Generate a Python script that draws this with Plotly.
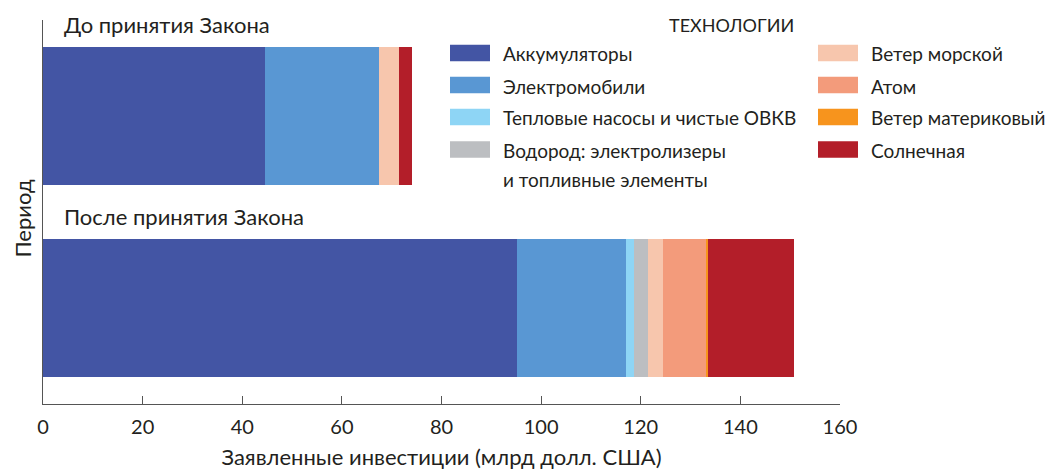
import plotly.graph_objects as go

periods = ["После принятия Закона", "До принятия Закона"]
technologies = [
    "Аккумуляторы",
    "Электромобили",
    "Тепловые насосы и чистые ОВКВ",
    "Водород: электролизеры<br>и топливные элементы",
    "Ветер морской",
    "Атом",
    "Ветер материковый",
    "Солнечная",
]
# values in bn USD: [after, before]
batteries = [95.1, 44.5]
electric_vehicles = [21.9, 22.9]
heat_pumps = [1.6, 0.0]
hydrogen = [2.9, 0.0]
wind_offshore = [2.9, 4.0]
nuclear = [8.7, 0.0]
wind_onshore = [0.4, 0.0]
solar = [17.2, 2.6]
series = [batteries, electric_vehicles, heat_pumps, hydrogen,
          wind_offshore, nuclear, wind_onshore, solar]
colors = ["#4355A4", "#5997D3", "#8ED5F5", "#BCBEC1",
          "#F7C6AD", "#F39B7B", "#F7941D", "#B31E29"]
x_ticks = [0, 20, 40, 60, 80, 100, 120, 140, 160]

FONT = "Lato"
TXT = "#231F20"
AX = "#555555"

W, H = 1054, 470
L, R, T, B = 43, 214, 20, 66
pw, ph = W - L - R, H - T - B


def px(xp):
    return (xp - L) / pw


def py(yp):
    return 1 - (yp - T) / ph


fig = go.Figure()
for name, vals, col in zip(technologies, series, colors):
    fig.add_trace(go.Bar(
        y=periods, x=vals, name=name.replace("<br>", " "), orientation="h",
        marker=dict(color=col, line=dict(width=0)),
        showlegend=False,
    ))

# category labels above each bar
for p in periods:
    fig.add_annotation(x=0, y=p, xref="x", yref="y", text=p, showarrow=False,
                       xanchor="left", yanchor="middle", xshift=19, yshift=92,
                       font=dict(size=22, color=TXT, family=FONT))

# y-axis title
fig.add_annotation(x=px(21.5), y=py(219), xref="paper", yref="paper",
                   text="Период", showarrow=False, textangle=-90,
                   xanchor="center", yanchor="middle",
                   font=dict(size=22, color=TXT, family=FONT))

# manual two-column legend
fig.add_annotation(x=px(731), y=py(25), xref="paper", yref="paper",
                   text="ТЕХНОЛОГИИ", showarrow=False,
                   xanchor="center", yanchor="middle",
                   font=dict(size=18, color=TXT, family=FONT))
row_y = [53, 85, 117, 149.5]
col_x = [450, 818]
for i, (name, col) in enumerate(zip(technologies, colors)):
    c, r = divmod(i, 4)
    x0 = col_x[c]
    yc = row_y[r]
    fig.add_shape(type="rect", xref="paper", yref="paper",
                  x0=px(x0), x1=px(x0 + 40), y0=py(yc - 8.2), y1=py(yc + 8.2),
                  fillcolor=col, line=dict(width=0))
    for j, line in enumerate(name.split("<br>")):
        fig.add_annotation(x=px(x0 + 51), y=py(yc + 1 + j * 29), xref="paper",
                           yref="paper", text=line, showarrow=False,
                           xanchor="left", yanchor="middle", align="left",
                           font=dict(size=19, color=TXT, family=FONT))

fig.update_layout(
    barmode="stack",
    bargap=0.28,
    width=W, height=H,
    margin=dict(l=L, r=R, t=T, b=B, autoexpand=False),
    paper_bgcolor="white", plot_bgcolor="white",
    font=dict(family=FONT, color=TXT, size=20),
    xaxis=dict(range=[0, 160], tickvals=x_ticks, ticks="inside", ticklen=8,
               tickcolor=AX, showline=True, linecolor=AX, linewidth=1.3,
               showgrid=False, zeroline=False, ticklabelstandoff=5,
               tickfont=dict(size=20, color=TXT),
               title=dict(text="Заявленные инвестиции (млрд долл. США)",
                          font=dict(size=22, color=TXT), standoff=19)),
    yaxis=dict(type="category", categoryorder="array", categoryarray=periods,
               range=[-0.5, 1.5], showticklabels=False, ticks="",
               showline=True, linecolor=AX, linewidth=1.3, showgrid=False,
               zeroline=False),
)

fig.write_html("out.html", config={"displayModeBar": False},
               post_script="document.body.style.margin='0px';")
